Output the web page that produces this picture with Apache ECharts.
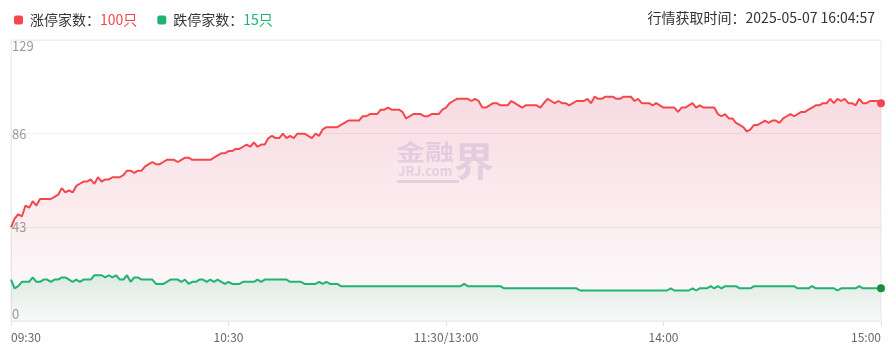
<!DOCTYPE html>
<html>
<head>
<meta charset="utf-8">
<script src="https://cdn.jsdelivr.net/npm/echarts@6/dist/echarts.min.js"></script>
<style>
  html, body { margin: 0; padding: 0; background: #fff; }
  #chart { width: 894px; height: 351px; }
</style>
</head>
<body>
<div id="chart"></div>
<script>
// 涨停家数（每分钟一个点，09:30 - 15:00 共 241 个）
var upCount = [
  43, 47, 49, 48, 53, 52, 55, 53, 56, 56,
  56, 56, 57, 58, 61, 59, 60, 59, 62, 63,
  64, 64, 65, 63, 66, 64, 65, 65, 66, 66,
  66, 67, 69, 69, 68, 69, 69, 71, 72, 73,
  72, 72, 73, 74, 74, 74, 73, 74, 75, 75,
  74, 74, 74, 74, 74, 74, 75, 76, 77, 77,
  78, 78, 79, 79, 80, 81, 80, 82, 80, 81,
  81, 84, 85, 84, 84, 86, 84, 85, 84, 86,
  86, 86, 85, 84, 86, 85, 88, 89, 89, 89,
  89, 90, 91, 92, 92, 92, 92, 94, 94, 95,
  95, 95, 97, 97, 98, 97, 97, 97, 96, 93,
  94, 95, 95, 95, 94, 94, 95, 95, 95, 97,
  98, 100, 101, 102, 102, 102, 102, 101, 102, 101,
  98, 98, 99, 100, 100, 99, 99, 99, 101, 100,
  99, 98, 99, 99, 99, 99, 98, 100, 102, 101,
  100, 101, 100, 100, 99, 100, 101, 101, 101, 102,
  100, 103, 102, 102, 103, 103, 103, 102, 102, 103,
  103, 103, 101, 102, 100, 100, 100, 99, 100, 99,
  98, 98, 98, 98, 96, 98, 98, 99, 100, 98,
  99, 98, 98, 98, 98, 95, 94, 95, 93, 93,
  91, 90, 89, 87, 88, 90, 90, 91, 92, 91,
  92, 92, 91, 93, 94, 95, 94, 95, 96, 96,
  97, 98, 99, 99, 100, 100, 102, 100, 102, 101,
  102, 100, 100, 99, 102, 100, 100, 101, 101, 101,
  100
]

// 跌停家数
var downCount = [
  19, 15, 16, 18, 18, 18, 20, 18, 18, 19,
  19, 18, 19, 19, 20, 20, 19, 18, 19, 18,
  19, 19, 19, 21, 21, 21, 20, 21, 20, 21,
  19, 19, 21, 18, 20, 20, 19, 19, 19, 19,
  17, 17, 17, 18, 19, 19, 19, 18, 19, 17,
  18, 18, 19, 19, 18, 19, 18, 19, 18, 17,
  18, 17, 17, 17, 18, 18, 18, 18, 19, 18,
  19, 19, 19, 19, 19, 19, 19, 18, 18, 18,
  18, 17, 17, 17, 17, 18, 17, 18, 17, 17,
  17, 16, 16, 16, 16, 16, 16, 16, 16, 16,
  16, 16, 16, 16, 16, 16, 16, 16, 16, 16,
  16, 16, 16, 16, 16, 16, 16, 16, 16, 16,
  16, 16, 16, 16, 16, 17, 16, 16, 16, 16,
  16, 16, 16, 16, 16, 16, 15, 15, 15, 15,
  15, 15, 15, 15, 15, 15, 15, 15, 15, 15,
  15, 15, 15, 15, 15, 15, 15, 14, 14, 14,
  14, 14, 14, 14, 14, 14, 14, 14, 14, 14,
  14, 14, 14, 14, 14, 14, 14, 14, 14, 14,
  14, 14, 15, 14, 14, 14, 14, 14, 15, 14,
  15, 15, 15, 16, 15, 16, 15, 16, 16, 16,
  16, 15, 15, 15, 15, 16, 16, 16, 16, 16,
  16, 16, 16, 16, 16, 16, 16, 15, 15, 15,
  15, 16, 15, 15, 15, 15, 15, 15, 14, 15,
  15, 15, 15, 15, 16, 15, 15, 15, 15, 15,
  15
]

// x 轴上显示的刻度文字（每 60 分钟一个）
var tickLabels = ['09:30', '10:30', '11:30/13:00', '14:00', '15:00']

var updateTime = '2025-05-07 16:04:57'

var red = '#f5474b'
var green = '#1fb472'
var font = '"Noto Sans CJK SC", "Microsoft YaHei", sans-serif'

// 分钟时间轴：上午 09:30-11:30，下午 13:01-15:00
var times = []
function pad (n) { return n < 10 ? '0' + n : '' + n }
for (var m = 9 * 60 + 30; m <= 11 * 60 + 30; m++) times.push(pad(Math.floor(m / 60)) + ':' + pad(m % 60))
for (var m2 = 13 * 60 + 1; m2 <= 15 * 60; m2++) times.push(pad(Math.floor(m2 / 60)) + ':' + pad(m2 % 60))

var last = upCount.length - 1
var yMax = Math.ceil(Math.max.apply(null, upCount) * 1.25)

// 最后一个点画一个圆点
function withEndDot (arr, color) {
  return arr.map(function (v, i) {
    if (i !== last) return v
    return { value: v, symbol: 'circle', symbolSize: 8, itemStyle: { color: color } }
  })
}

var myChart = echarts.init(document.getElementById('chart'))

myChart.setOption({
  animation: false,
  textStyle: { fontFamily: font },
  title: {
    text: '行情获取时间：' + updateTime,
    right: 14,
    top: 6,
    textStyle: { fontSize: 14, fontWeight: 'normal', color: '#333', fontFamily: font }
  },
  legend: {
    left: 9,
    top: 8,
    icon: 'roundRect',
    itemWidth: 9,
    itemHeight: 9,
    itemGap: 20,
    selectedMode: false,
    data: ['涨停家数', '跌停家数'],
    formatter: function (name) {
      if (name === '涨停家数') return '{t|' + name + '：}{r|' + upCount[last] + '只}'
      return '{t|' + name + '：}{g|' + downCount[last] + '只}'
    },
    textStyle: {
      fontSize: 14,
      color: '#333',
      fontFamily: font,
      rich: {
        t: { fontSize: 14, color: '#333', fontFamily: font, padding: [0, 0, 0, 2] },
        r: { fontSize: 14, color: red, fontFamily: font },
        g: { fontSize: 14, color: green, fontFamily: font }
      }
    }
  },
  grid: {
    left: 11,
    right: 13,
    top: 40,
    bottom: 30,
    show: true,
    borderColor: '#ececec',
    borderWidth: 1
  },
  xAxis: {
    type: 'category',
    data: times,
    boundaryGap: false,
    axisLine: { lineStyle: { color: '#ececec' } },
    axisTick: {
      show: true,
      length: 5,
      interval: function (i) { return i % 60 === 0 },
      lineStyle: { color: '#e2e2e2' }
    },
    axisLabel: {
      interval: function (i) { return i % 60 === 0 },
      formatter: function (v, i) { return tickLabels[i / 60] || '' },
      color: '#666',
      fontSize: 12,
      margin: 10,
      fontFamily: font,
      alignMinLabel: 'left',
      alignMaxLabel: 'right'
    },
    splitLine: { show: false }
  },
  yAxis: {
    type: 'value',
    min: 0,
    max: yMax,
    interval: yMax / 3,
    axisLine: { show: true, lineStyle: { color: '#ececec' } },
    axisTick: { show: false },
    axisLabel: {
      inside: true,
      margin: 1,
      color: '#999',
      fontSize: 13,
      fontFamily: font,
      verticalAlign: 'middle',
      verticalAlignMinLabel: 'bottom',
      verticalAlignMaxLabel: 'top'
    },
    splitLine: { lineStyle: { color: '#eeeeee' } }
  },
  graphic: [
    {
      type: 'group',
      left: 396,
      top: 141,
      silent: true,
      z: 1,
      children: [
        { type: 'text', x: 0, y: 0, scaleY: 0.75, style: { text: '金融', font: 'bold 29px ' + font, fill: 'rgba(175,170,215,0.35)' } },
        { type: 'text', x: 58, y: 0, style: { text: '界', font: 'bold 40px ' + font, fill: 'rgba(175,170,215,0.35)' } },
        { type: 'text', x: 2, y: 24, style: { text: 'JRJ.com', font: 'bold 13px ' + font, fill: 'rgba(175,170,215,0.35)' } },
        { type: 'rect', shape: { x: 1, y: 39, width: 62, height: 3 }, style: { fill: 'rgba(175,170,215,0.35)' } }
      ]
    }
  ],
  series: [
    {
      name: '涨停家数',
      type: 'line',
      data: withEndDot(upCount, red),
      color: red,
      symbol: 'none',
      showSymbol: true,
      showAllSymbol: true,
      lineStyle: { width: 2, color: red },
      areaStyle: {
        color: new echarts.graphic.LinearGradient(0, 0, 0, 1, [
          { offset: 0, color: 'rgba(228,135,158,0.42)' },
          { offset: 1, color: 'rgba(228,135,158,0.04)' }
        ])
      },
      z: 2
    },
    {
      name: '跌停家数',
      type: 'line',
      data: withEndDot(downCount, '#178f3f'),
      color: green,
      symbol: 'none',
      showSymbol: true,
      showAllSymbol: true,
      lineStyle: { width: 2, color: green },
      areaStyle: {
        color: new echarts.graphic.LinearGradient(0, 0, 0, 1, [
          { offset: 0, color: 'rgba(30,165,100,0.2)' },
          { offset: 1, color: 'rgba(30,165,100,0.03)' }
        ])
      },
      z: 3
    }
  ]
})
</script>
</body>
</html>
